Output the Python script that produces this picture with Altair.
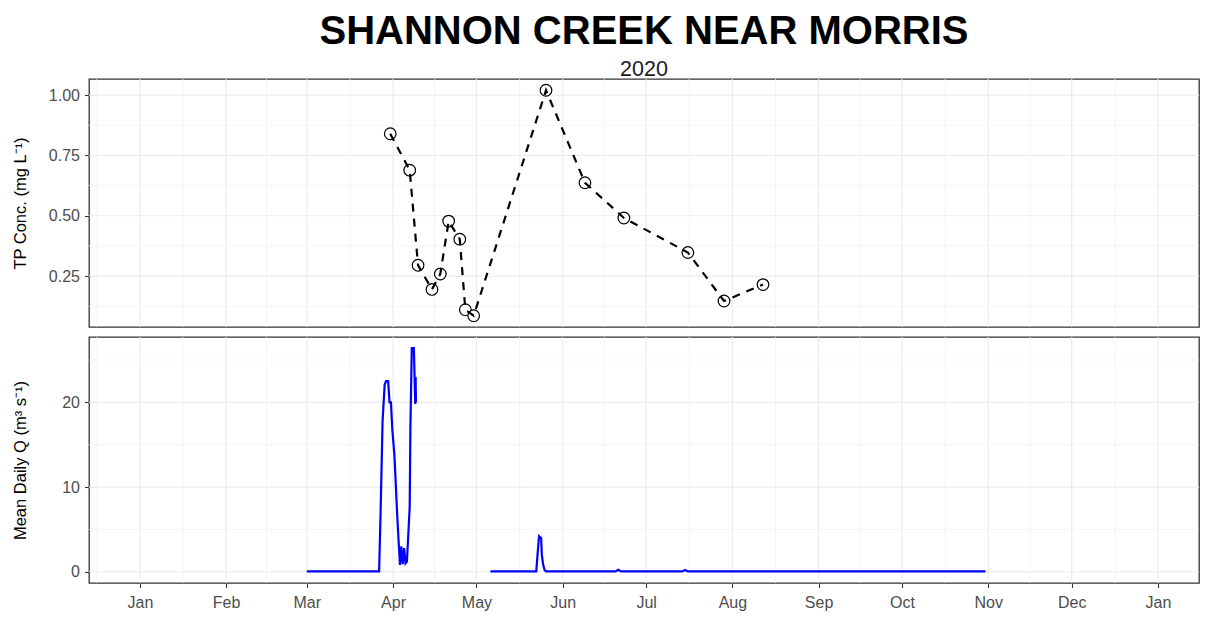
import altair as alt
import pandas as pd

FONT = "Liberation Sans"

# ---- TP concentration samples (mg/L) ----
tp_dates = ["2020-03-31", "2020-04-07", "2020-04-10", "2020-04-15", "2020-04-18",
            "2020-04-21", "2020-04-25", "2020-04-27", "2020-04-30", "2020-05-26",
            "2020-06-09", "2020-06-23", "2020-07-16", "2020-07-29", "2020-08-12"]
tp_values = [0.84, 0.689, 0.295, 0.195, 0.259, 0.478, 0.403, 0.111, 0.086, 1.02,
             0.637, 0.491, 0.348, 0.147, 0.215]

# ---- Mean daily discharge (m3/s), two recorded periods ----
q1_times = ["2020-03-01T00:00", "2020-03-27T00:00", "2020-03-27T12:00", "2020-03-28T06:00",
            "2020-03-29T00:00", "2020-03-29T12:00", "2020-03-30T06:00", "2020-03-30T18:00",
            "2020-03-31T06:00", "2020-03-31T18:00", "2020-04-01T12:00", "2020-04-02T00:00",
            "2020-04-02T12:00", "2020-04-03T00:00", "2020-04-03T12:00", "2020-04-04T00:00",
            "2020-04-04T12:00", "2020-04-05T00:00", "2020-04-05T12:00", "2020-04-06T00:00",
            "2020-04-06T12:00", "2020-04-07T00:00", "2020-04-07T06:00", "2020-04-07T18:00",
            "2020-04-08T12:00", "2020-04-08T18:00", "2020-04-09T00:00", "2020-04-09T03:00",
            "2020-04-09T06:00"]
q1_values = [0.05, 0.05, 6.5, 17.8, 22.1, 22.5, 22.5, 20.0, 20.0, 16.8, 13.8, 10.3,
             6.7, 3.7, 0.8, 3.0, 0.9, 2.8, 1.0, 1.2, 4.4, 7.7, 17.0, 26.4, 26.4, 23.0,
             19.8, 23.0, 20.0]

q2_times = ["2020-05-06T00:00", "2020-05-22T12:00", "2020-05-23T00:00", "2020-05-23T12:00",
            "2020-05-24T06:00", "2020-05-24T12:00", "2020-05-25T00:00", "2020-05-25T12:00",
            "2020-05-26T00:00", "2020-06-20T00:00", "2020-06-21T00:00", "2020-06-22T00:00",
            "2020-07-14T00:00", "2020-07-15T00:00", "2020-07-16T00:00", "2020-10-31T00:00"]
q2_values = [0.05, 0.05, 2.2, 4.2, 4.0, 2.0, 0.8, 0.2, 0.05, 0.05, 0.25, 0.05,
             0.05, 0.22, 0.05, 0.05]

# ---- axis tick values ----
month_starts = pd.date_range("2019-12-01", "2021-02-01", freq="MS")
tp_major = [0.25, 0.50, 0.75, 1.00]
tp_minor = [0.125, 0.375, 0.625, 0.875]
q_major = [0, 10, 20]
q_minor = [5, 15, 25]

X_START = pd.Timestamp("2019-12-13T17:00")
X_END = pd.Timestamp("2021-01-15T18:00")


def iso(ts):
    return pd.Timestamp(ts).strftime("%Y-%m-%dT%H:%M:%SZ")


tp_df = pd.DataFrame({"date": [iso(d) for d in tp_dates], "tp": tp_values})
q_df = pd.DataFrame({
    "date": [iso(t) for t in q1_times] + [iso(t) for t in q2_times],
    "q": q1_values + q2_values,
    "seg": ["a"] * len(q1_times) + ["b"] * len(q2_times),
})

major_x = [m for m in month_starts if X_START <= m <= X_END]
minor_x = [month_starts[i] + (month_starts[i + 1] - month_starts[i]) / 2
           for i in range(len(month_starts) - 1)]
minor_x = [m for m in minor_x if X_START <= m <= X_END]
gx_major = pd.DataFrame({"date": [iso(m) for m in major_x]})
gx_minor = pd.DataFrame({"date": [iso(m) for m in minor_x]})

x_scale = alt.Scale(type="utc", domain=[
    alt.DateTime(year=X_START.year, month=X_START.month, date=X_START.day,
                 hours=X_START.hour, utc=True),
    alt.DateTime(year=X_END.year, month=X_END.month, date=X_END.day,
                 hours=X_END.hour, utc=True)])

month_ticks = [alt.DateTime(year=m.year, month=m.month, date=1, utc=True) for m in major_x]

W = 1110
H_TOP = 248
H_BOT = 246
GRID = "#EBEBEB"
MINOR = "#F2F2F2"

common_y_axis = dict(grid=False, domain=False, tickSize=4.5, tickColor="#333333",
                     tickWidth=1.1, labelPadding=5, labelFontSize=16,
                     labelColor="#4D4D4D", labelFont=FONT, titleFont=FONT,
                     titleFontSize=16.5, titleFontWeight="normal", titleColor="black",
                     titleX=-64, titleAngle=270, titleAlign="center",
                     titleBaseline="alphabetic")

tp_lo = min(tp_values) - 0.05 * (max(tp_values) - min(tp_values))
tp_hi = max(tp_values) + 0.05 * (max(tp_values) - min(tp_values))
allq = q1_values + q2_values
q_lo = 0 - 0.05 * (max(allq) - 0)
q_hi = max(allq) + 0.05 * (max(allq) - 0)

x_top = alt.X("date:T", scale=x_scale, axis=None)
x_bot = alt.X("date:T", scale=x_scale, axis=alt.Axis(
    values=month_ticks, labelExpr="utcFormat(datum.value, '%b')", title=None, grid=False,
    domain=False, tickSize=4.5, tickColor="#333333", tickWidth=1.1, labelPadding=7,
    labelFontSize=16, labelColor="#4D4D4D", labelFont=FONT))

y_top = alt.Y("tp:Q", scale=alt.Scale(domain=[tp_lo, tp_hi], nice=False, zero=False),
              axis=alt.Axis(values=tp_major, format=".2f", title="TP Conc. (mg L⁻¹)",
                            titleY=H_TOP / 2, **common_y_axis))
y_bot = alt.Y("q:Q", scale=alt.Scale(domain=[q_lo, q_hi], nice=False, zero=False),
              axis=alt.Axis(values=q_major, format="d", title="Mean Daily Q (m³ s⁻¹)",
                            titleY=H_BOT / 2, **common_y_axis))


def xgrid(x_enc):
    a = alt.Chart(gx_minor).mark_rule(color=MINOR, strokeWidth=0.8).encode(x=x_enc)
    b = alt.Chart(gx_major).mark_rule(color=GRID, strokeWidth=1.1).encode(x=x_enc)
    return [a, b]


top_layers = xgrid(x_top) + [
    alt.Chart(pd.DataFrame({"tp": tp_minor})).mark_rule(color=MINOR, strokeWidth=0.8).encode(y=y_top),
    alt.Chart(pd.DataFrame({"tp": tp_major})).mark_rule(color=GRID, strokeWidth=1.1).encode(y=y_top),
    alt.Chart(tp_df).mark_point(shape="circle", filled=True, fill="white", stroke="black",
                                strokeWidth=1.2, size=135, opacity=1).encode(x=x_top, y=y_top),
    alt.Chart(tp_df).mark_line(color="black", strokeDash=[8, 7], strokeWidth=2.2).encode(x=x_top, y=y_top),
]

bot_layers = xgrid(x_bot) + [
    alt.Chart(pd.DataFrame({"q": q_minor})).mark_rule(color=MINOR, strokeWidth=0.8).encode(y=y_bot),
    alt.Chart(pd.DataFrame({"q": q_major})).mark_rule(color=GRID, strokeWidth=1.1).encode(y=y_bot),
    alt.Chart(q_df).mark_line(color="#0000FF", strokeWidth=2.2).encode(x=x_bot, y=y_bot, detail="seg:N"),
]

top = alt.layer(*top_layers).properties(
    width=W, height=H_TOP,
    title=alt.TitleParams(text="SHANNON CREEK NEAR MORRIS", subtitle="2020",
                          anchor="middle", frame="group", font=FONT, fontSize=40,
                          fontWeight="bold", color="black", subtitleFont=FONT,
                          subtitleFontSize=21.5, subtitleColor="#1A1A1A",
                          subtitlePadding=7, offset=-2))
bottom = alt.layer(*bot_layers).properties(width=W, height=H_BOT)

chart = alt.vconcat(top, bottom, spacing=6).resolve_scale(
    x="independent", y="independent").properties(
    padding={"left": 3, "top": 3, "right": 0, "bottom": 0},
    background="white",
).configure_view(stroke="#333333", strokeWidth=1.3)

chart.save("out.html", embed_options={"renderer": "svg", "actions": False})
